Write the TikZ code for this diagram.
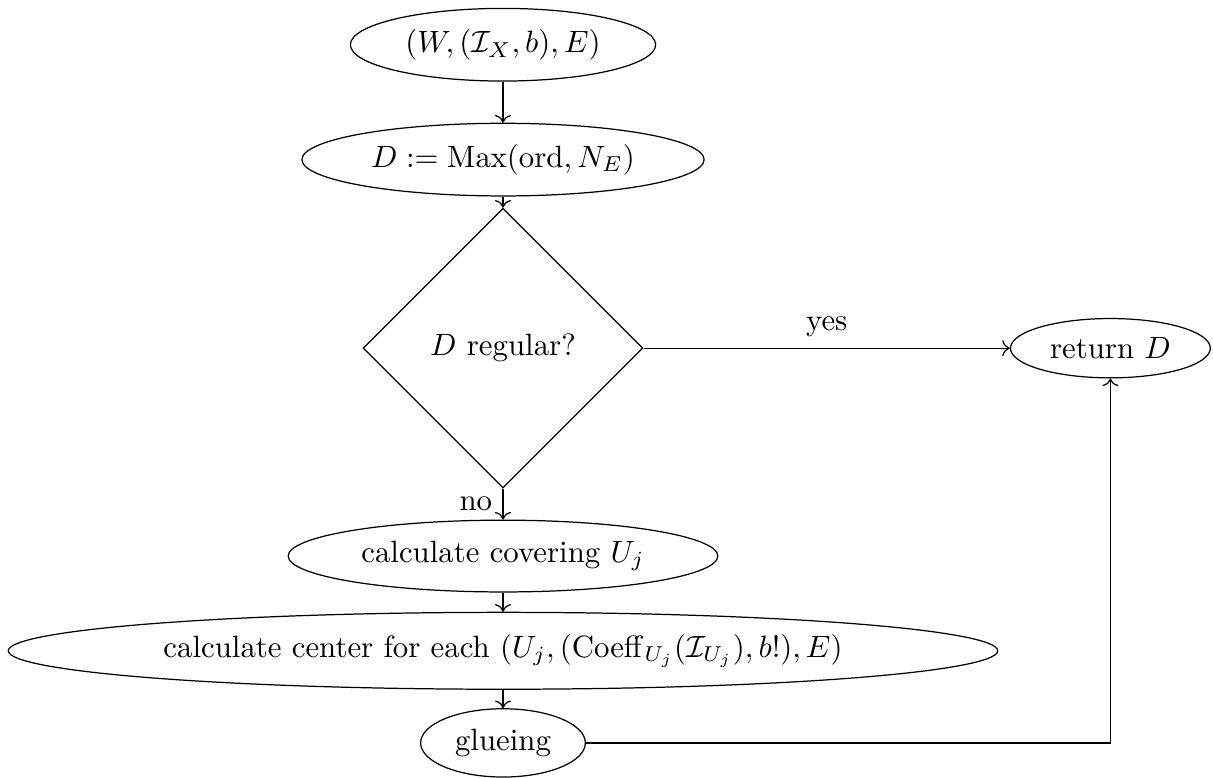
\documentclass[tikz,border=0pt]{standalone}
\usepackage{amsmath,amssymb}
\usetikzlibrary{arrows.meta,positioning,shapes.geometric}

\begin{document}
\begin{tikzpicture}[
      stage/.style={ellipse, draw},
      test/.style={diamond, draw, aspect=1, minimum width=3.19cm, minimum height=3.19cm},
      flow/.style={->}
    ]
    \useasboundingbox (0,0) rectangle (13.83,-8.87);
    % main column
    \node[stage] (in)    at (5.735,-0.51) {$(W,(\mathcal{I}_X,b),E)$};
    \node[stage] (max)   at (5.735,-1.82) {$D:=\operatorname{Max}(\mathrm{ord},N_E)$};
    \node[test]  (reg)   at (5.735,-3.97) {$D$ regular?};
    \node[stage] (ret)   at (12.66,-3.97) {return $D$};
    \node[stage] (cover) at (5.735,-6.34) {calculate covering $U_j$};
    \node[stage] (cent)  at (5.735,-7.42) {calculate center for each $(U_j,(\operatorname{Coeff}_{U_j}(\mathcal{I}_{U_j}),b!),E)$};
    \node[stage] (glue)  at (5.735,-8.47) {glueing};
    % connectors
    \draw[flow] (in) -- (max);
    \draw[flow] (max) -- (reg);
    \draw[flow] (reg) -- node[above]{yes} (ret);
    \draw[flow] (reg) -- node[left]{no} (cover);
    \draw[flow] (cover) -- (cent);
    \draw[flow] (cent) -- (glue);
    \draw[flow] (glue) -| (ret);
  \end{tikzpicture}
\end{document}
